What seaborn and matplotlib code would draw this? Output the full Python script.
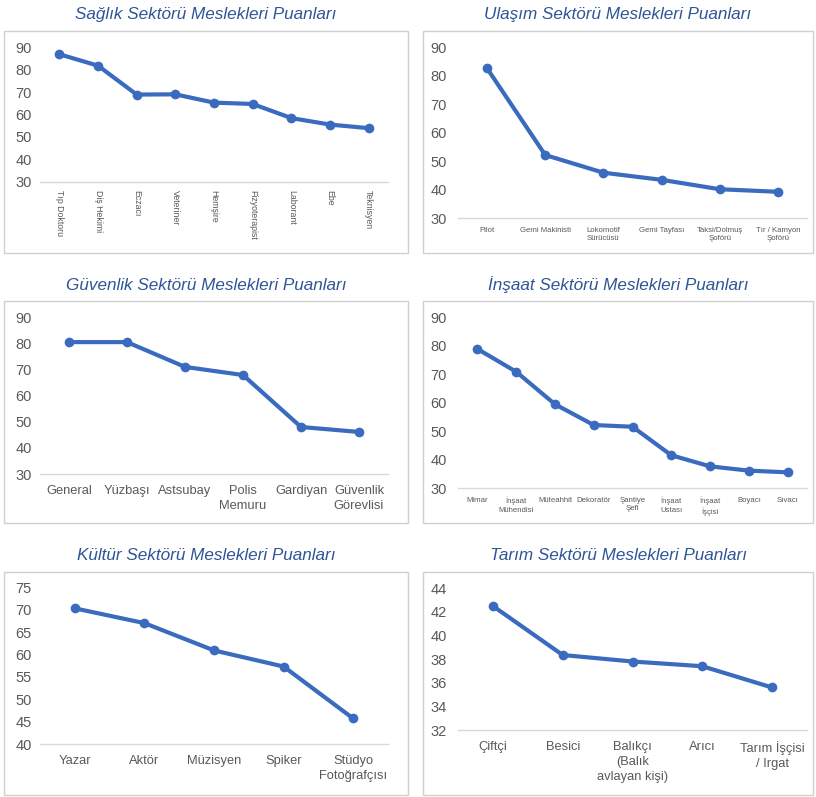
import matplotlib
matplotlib.use("Agg")
import matplotlib.pyplot as plt
from matplotlib.patches import Rectangle
import seaborn as sns
import pandas as pd
import numpy as np

sns.set_theme(style="white")
plt.rcParams['font.family'] = ['Liberation Sans', 'DejaVu Sans']

# ---------------- data ----------------
saglik_titles = "Sağlık Sektörü Meslekleri Puanları"
saglik_labels = ["Tıp Doktoru", "Diş Hekimi", "Eczacı", "Veteriner", "Hemşire",
                 "Fizyoterapist", "Laborant", "Ebe", "Teknisyen"]
saglik_values = [86.9, 81.8, 68.9, 69.0, 65.3, 64.7, 58.4, 55.5, 53.9]
saglik_yticks = [30, 40, 50, 60, 70, 80, 90]

ulasim_title = "Ulaşım Sektörü Meslekleri Puanları"
ulasim_labels = ["Pilot", "Gemi Makinisti", "Lokomotif\nSürücüsü", "Gemi Tayfası",
                 "Taksi/Dolmuş\nŞoförü", "Tır / Kamyon\nŞoförü"]
ulasim_values = [82.6, 52.2, 46.0, 43.5, 40.2, 39.3]
ulasim_yticks = [30, 40, 50, 60, 70, 80, 90]

guvenlik_title = "Güvenlik Sektörü Meslekleri Puanları"
guvenlik_labels = ["General", "Yüzbaşı", "Astsubay", "Polis\nMemuru", "Gardiyan",
                   "Güvenlik\nGörevlisi"]
guvenlik_values = [80.5, 80.5, 71.0, 67.9, 48.0, 46.1]
guvenlik_yticks = [30, 40, 50, 60, 70, 80, 90]

insaat_title = "İnşaat Sektörü Meslekleri Puanları"
insaat_labels = ["Mimar", "İnşaat\nMühendisi", "Müteahhit", "Dekoratör", "Şantiye\nŞefi",
                 "İnşaat\nUstası", "İnşaat\nİşçisi", "Boyacı", "Sıvacı"]
insaat_values = [78.9, 70.9, 59.5, 52.2, 51.6, 41.6, 37.7, 36.2, 35.6]
insaat_yticks = [30, 40, 50, 60, 70, 80, 90]

kultur_title = "Kültür Sektörü Meslekleri Puanları"
kultur_labels = ["Yazar", "Aktör", "Müzisyen", "Spiker", "Stüdyo\nFotoğrafçısı"]
kultur_values = [70.3, 67.0, 60.9, 57.3, 45.7]
kultur_yticks = [40, 45, 50, 55, 60, 65, 70, 75]

tarim_title = "Tarım Sektörü Meslekleri Puanları"
tarim_labels = ["Çiftçi", "Besici", "Balıkçı\n(Balık\navlayan kişi)", "Arıcı",
                "Tarım İşçisi\n/ Irgat"]
tarim_values = [42.5, 38.35, 37.8, 37.4, 35.6]
tarim_yticks = [32, 34, 36, 38, 40, 42, 44]

# ---------------- style ----------------
W, H = 816, 797
LINE_COLOR = "#3A6BBE"
TITLE_COLOR = "#2F5597"
TEXT_COLOR = "#595959"
AXIS_COLOR = "#D9D9D9"

fig = plt.figure(figsize=(W / 100, H / 100), dpi=100)
fig.patch.set_facecolor("white")


def rect(x0, y0, x1, y1):
    return [x0 / W, 1 - y1 / H, (x1 - x0) / W, (y1 - y0) / H]


panels = [
    dict(title=saglik_titles, labels=saglik_labels, values=saglik_values, yticks=saglik_yticks,
         ax=(40, 47.3, 388, 181.7), box=(4, 30.5, 408, 253), ty=15,
         xfs=6.3, rot=-90, ypad=6, xpad=6),
    dict(title=ulasim_title, labels=ulasim_labels, values=ulasim_values, yticks=ulasim_yticks,
         ax=(458, 47.3, 807, 218.3), box=(423, 30.5, 813, 253), ty=15,
         xfs=5.6, rot=0, ypad=8, xpad=6),
    dict(title=guvenlik_title, labels=guvenlik_labels, values=guvenlik_values, yticks=guvenlik_yticks,
         ax=(40, 317.3, 388, 474), box=(4, 300.5, 408, 523), ty=285,
         xfs=9.3, rot=0, ypad=6, xpad=8),
    dict(title=insaat_title, labels=insaat_labels, values=insaat_values, yticks=insaat_yticks,
         ax=(458, 317.3, 807, 488.3), box=(423, 300.5, 813, 523), ty=285,
         xfs=5.6, rot=0, ypad=8, xpad=6),
    dict(title=kultur_title, labels=kultur_labels, values=kultur_values, yticks=kultur_yticks,
         ax=(40, 587.3, 388, 744), box=(4, 571.5, 408, 795), ty=556,
         xfs=9.3, rot=0, ypad=6, xpad=8),
    dict(title=tarim_title, labels=tarim_labels, values=tarim_values, yticks=tarim_yticks,
         ax=(458, 588.3, 807, 730), box=(423, 571.5, 813, 795), ty=556,
         xfs=9.3, rot=0, ypad=8, xpad=8),
]

for p in panels:
    bx0, by0, bx1, by1 = p["box"]
    fig.patches.append(Rectangle((bx0 / W, 1 - by1 / H), (bx1 - bx0) / W, (by1 - by0) / H,
                                 transform=fig.transFigure, fill=False,
                                 edgecolor="#D0D0D0", linewidth=1.0, zorder=0))
    fig.text(((bx0 + bx1) / 2) / W, 1 - p["ty"] / H, p["title"], ha="center", va="center",
             fontsize=12.3, style="italic", color=TITLE_COLOR)

    ax = fig.add_axes(rect(*p["ax"]))
    df = pd.DataFrame({"job": p["labels"], "score": p["values"]})
    sns.lineplot(data=df, x="job", y="score", sort=False, estimator=None, ax=ax,
                 color=LINE_COLOR, linewidth=3.0, marker="o", markersize=7,
                 markeredgewidth=0, clip_on=False)
    n = len(p["labels"])
    ax.set_xlim(-0.5, n - 0.5)
    ax.set_ylim(p["yticks"][0], p["yticks"][-1])
    ax.set_yticks(p["yticks"])
    ax.set_xlabel("")
    ax.set_ylabel("")
    for s in ["top", "right", "left"]:
        ax.spines[s].set_visible(False)
    ax.spines["bottom"].set_color(AXIS_COLOR)
    ax.spines["bottom"].set_linewidth(1.0)
    ax.patch.set_alpha(0)
    ax.tick_params(axis="y", length=0, labelsize=10.5, labelcolor=TEXT_COLOR, pad=p["ypad"])
    ax.tick_params(axis="x", length=0, labelsize=p["xfs"], labelcolor=TEXT_COLOR, pad=p["xpad"])
    if p["rot"]:
        for lab in ax.get_xticklabels():
            lab.set_rotation(p["rot"])
            lab.set_va("top")
            lab.set_ha("center")
    else:
        for lab in ax.get_xticklabels():
            lab.set_ha("center")
            lab.set_multialignment("center")
            lab.set_linespacing(1.3)
    ax.grid(False)

fig.savefig("out.png", dpi=100, facecolor="white")
